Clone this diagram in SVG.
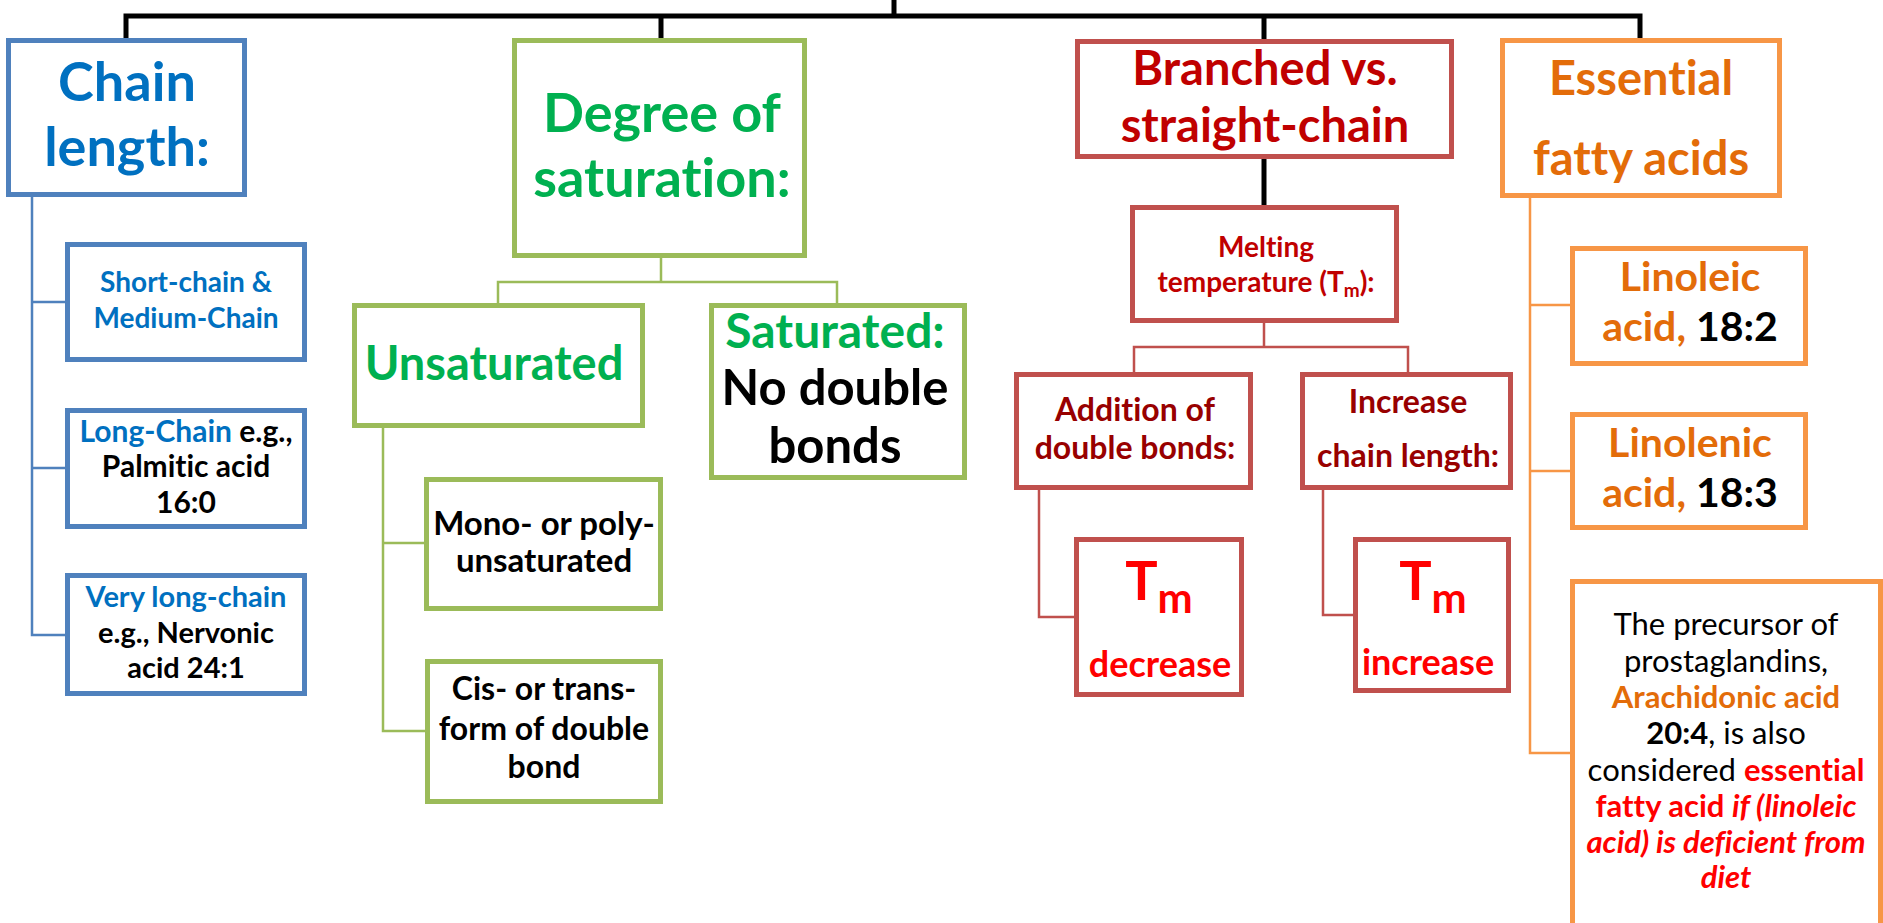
<svg xmlns="http://www.w3.org/2000/svg" width="1883" height="923" viewBox="0 0 1883 923">
<style>
text{font-family:Lato,"Open Sans","Liberation Sans",sans-serif;text-anchor:middle;font-weight:700;font-variant-ligatures:none;font-feature-settings:"liga" 0,"clig" 0}
.bx{fill:#fff;stroke-width:5}
.blue{stroke:#4F81BD}.green{stroke:#9BBB59}.red{stroke:#C0504D}.orange{stroke:#F79646}
.tb{fill:#0070C0}.tg{fill:#00B050}.tr{fill:#C00000}.tdr{fill:#980000}.tR{fill:#FF0000}.to{fill:#E36C09}.tk{fill:#000}
.reg{font-weight:400}.it{font-style:italic}
.cb{fill:none;stroke:#000;stroke-width:5}
.c{fill:none;stroke-width:2.5}
</style>
<rect width="1883" height="923" fill="#fff"/>
<g id="connectors">
<path class="cb" d="M126,38V16H1640V38M894,0V16M661,16V38M1264,16V40M1264,158V206"/>
<path class="c blue" d="M32,197V635H66M32,302H66M32,468H66"/>
<path class="c green" d="M661,257V282M498,304V282H837V304M383,428V731H426M383,543H426"/>
<path class="c red" d="M1264,322V347M1134,373V347H1408V373M1039,489V617H1076M1323,489V615H1355"/>
<path class="c orange" d="M1530,197V753H1572M1530,305H1572M1530,471H1572"/>
</g>
<g id="chain">
<rect class="bx blue" x="8.5" y="40.5" width="236" height="154"/>
<text class="tb" x="127" y="101" font-size="54">Chain</text>
<text class="tb" x="127" y="166" font-size="54">length:</text>
</g>
<g id="short">
<rect class="bx blue" x="67.5" y="244.5" width="237" height="115"/>
<text class="tb" x="186" y="292" font-size="28">Short-chain &amp;</text>
<text class="tb" x="186" y="328" font-size="28">Medium-Chain</text>
</g>
<g id="long">
<rect class="bx blue" x="67.5" y="410.5" width="237" height="116"/>
<text x="186" y="442" font-size="30"><tspan class="tb">Long-Chain</tspan> <tspan class="tk">e.g.,</tspan></text>
<text class="tk" x="186" y="477" font-size="30">Palmitic acid</text>
<text class="tk" x="186" y="513" font-size="30">16:0</text>
</g>
<g id="verylong">
<rect class="bx blue" x="67.5" y="575.5" width="237" height="118"/>
<text class="tb" x="186" y="607" font-size="29">Very long-chain</text>
<text class="tk" x="186" y="643" font-size="29">e.g., Nervonic</text>
<text class="tk" x="186" y="678" font-size="29">acid 24:1</text>
</g>
<g id="degree">
<rect class="bx green" x="514.5" y="40.5" width="290" height="215"/>
<text class="tg" x="662" y="132" font-size="54">Degree of</text>
<text class="tg" x="662" y="197" font-size="54">saturation:</text>
</g>
<g id="unsaturated">
<rect class="bx green" x="354.5" y="305.5" width="288" height="120"/>
<text class="tg" x="494" y="380" font-size="47">Unsaturated</text>
</g>
<g id="saturated">
<rect class="bx green" x="711.5" y="305.5" width="253" height="172"/>
<text class="tg" x="835" y="348" font-size="48">Saturated:</text>
<text class="tk" x="835" y="405" font-size="49">No double</text>
<text class="tk" x="835" y="463" font-size="49">bonds</text>
</g>
<g id="mono">
<rect class="bx green" x="426.5" y="479.5" width="234" height="129"/>
<text class="tk" x="544" y="535" font-size="33">Mono- or poly-</text>
<text class="tk" x="544" y="572" font-size="33">unsaturated</text>
</g>
<g id="cis">
<rect class="bx green" x="427.5" y="661.5" width="233" height="140"/>
<text class="tk" x="544" y="700" font-size="32">Cis- or trans-</text>
<text class="tk" x="544" y="740" font-size="32">form of double</text>
<text class="tk" x="544" y="778" font-size="32">bond</text>
</g>
<g id="branched">
<rect class="bx red" x="1077.5" y="41.5" width="374" height="115"/>
<text class="tr" x="1265" y="85" font-size="47">Branched vs.</text>
<text class="tr" x="1265" y="142" font-size="47">straight-chain</text>
</g>
<g id="melting">
<rect class="bx red" x="1132.5" y="207.5" width="264" height="113"/>
<text class="tr" x="1266" y="257" font-size="28">Melting</text>
<text class="tr" x="1266" y="292" font-size="28">temperature (T<tspan font-size="19" dy="5">m</tspan><tspan dy="-5">):</tspan></text>
</g>
<g id="addition">
<rect class="bx red" x="1016.5" y="374.5" width="234" height="113"/>
<text class="tdr" x="1135" y="421" font-size="32">Addition of</text>
<text class="tdr" x="1135" y="459" font-size="32">double bonds:</text>
</g>
<g id="increase">
<rect class="bx red" x="1302.5" y="374.5" width="208" height="113"/>
<text class="tdr" x="1408" y="413" font-size="32">Increase</text>
<text class="tdr" x="1408" y="467" font-size="32">chain length:</text>
</g>
<g id="tm-decrease">
<rect class="bx red" x="1076.5" y="539.5" width="165" height="155"/>
<text class="tR" x="1159" y="600" font-size="54">T<tspan font-size="42" dy="13">m</tspan></text>
<text class="tR" x="1160" y="677" font-size="36">decrease</text>
</g>
<g id="tm-increase">
<rect class="bx red" x="1355.5" y="539.5" width="153" height="151"/>
<text class="tR" x="1433" y="600" font-size="54">T<tspan font-size="42" dy="13">m</tspan></text>
<text class="tR" x="1428" y="675" font-size="36">increase</text>
</g>
<g id="essential">
<rect class="bx orange" x="1502.5" y="40.5" width="277" height="155"/>
<text class="to" x="1641" y="95" font-size="47">Essential</text>
<text class="to" x="1641" y="175" font-size="47">fatty acids</text>
</g>
<g id="linoleic">
<rect class="bx orange" x="1572.5" y="248.5" width="233" height="115"/>
<text class="to" x="1690" y="291" font-size="41">Linoleic</text>
<text x="1690" y="341" font-size="41"><tspan class="to">acid,</tspan> <tspan class="tk">18:2</tspan></text>
</g>
<g id="linolenic">
<rect class="bx orange" x="1572.5" y="414.5" width="233" height="113"/>
<text class="to" x="1690" y="457" font-size="41">Linolenic</text>
<text x="1690" y="507" font-size="41"><tspan class="to">acid,</tspan> <tspan class="tk">18:3</tspan></text>
</g>
<g id="arachidonic">
<rect class="bx orange" x="1572.5" y="581.5" width="308" height="400"/>
<text class="tk reg" x="1726" y="635" font-size="31">The precursor of</text>
<text class="tk reg" x="1726" y="672" font-size="31">prostaglandins,</text>
<text class="to" x="1726" y="708" font-size="31">Arachidonic acid</text>
<text x="1726" y="744" font-size="31"><tspan class="tk">20:4</tspan><tspan class="tk reg">, is also</tspan></text>
<text x="1726" y="781" font-size="31"><tspan class="tk reg">considered </tspan><tspan class="tR">essential</tspan></text>
<text class="tR" x="1726" y="817" font-size="31">fatty acid <tspan class="it">if (linoleic</tspan></text>
<text class="tR it" x="1726" y="853" font-size="31">acid) is deficient from</text>
<text class="tR it" x="1726" y="888" font-size="31">diet</text>
</g>
</svg>
